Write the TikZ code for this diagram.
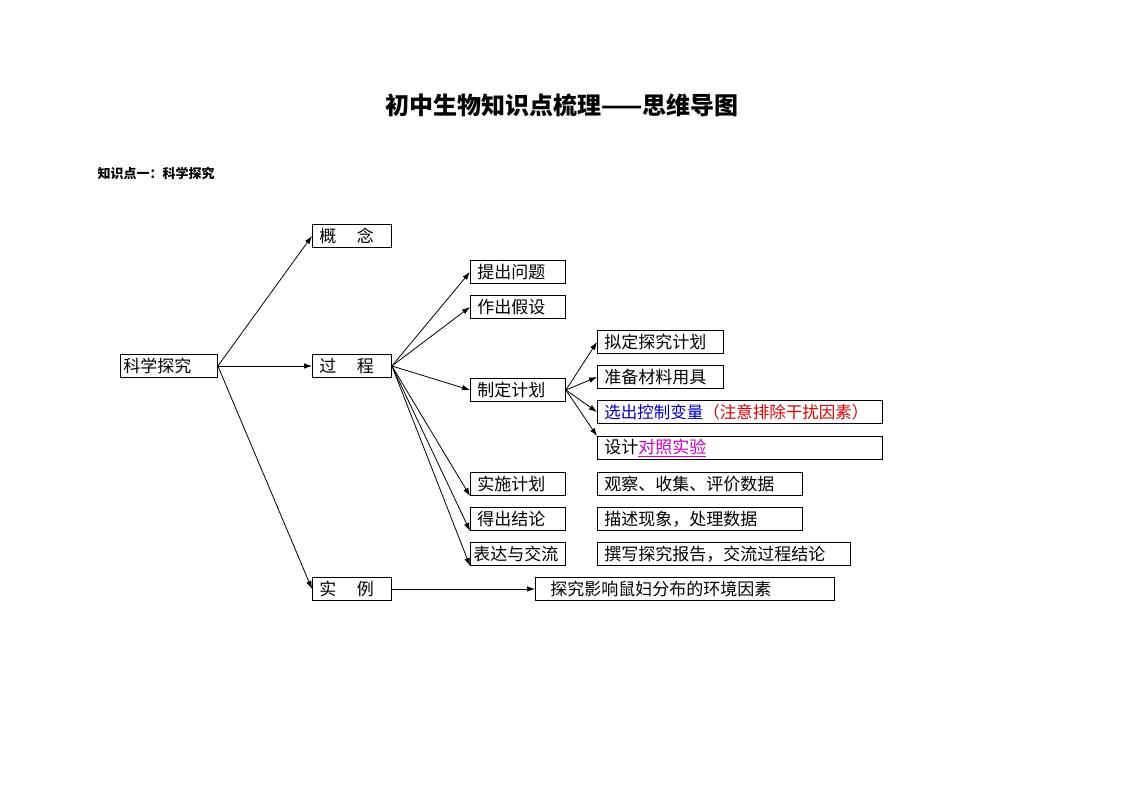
\documentclass[tikz,border=0pt]{standalone}
\usepackage{fontspec}
\newfontfamily\cjk{Noto Sans CJK SC}
\usetikzlibrary{arrows.meta}
\begin{document}
\begin{tikzpicture}[x=1pt,y=-1pt,
  box/.style={draw,line width=0.9pt,inner xsep=0pt,inner ysep=0pt,minimum height=23pt,anchor=west,font=\cjk\fontsize{17}{19}\selectfont},
  arr/.style={-{Latex[length=8pt,width=5.5pt]},line width=0.8pt}]
\useasboundingbox (0,0) rectangle (1123,794);
\node[font=\cjk\bfseries\fontsize{24}{28}\selectfont] (title) at (562,105) {初中生物知识点梳理——思维导图};
\node[font=\cjk\bfseries\fontsize{13}{15}\selectfont,anchor=west] (sub) at (94,173) {知识点一：科学探究};
\newcommand\bx[5]{\pgfmathsetlengthmacro\bw{#4-#2}\node[box] (#1) at (#2,#3) {\makebox[\bw][l]{\hspace{3pt}#5}};}
\bx{root}{120}{366}{217}{科学探究}
\bx{gn}{312}{236}{391}{\hspace{4pt}概\hspace{1.2em}念}
\bx{gc}{312}{366}{391}{\hspace{4pt}过\hspace{1.2em}程}
\bx{sl}{312}{589}{391}{\hspace{4pt}实\hspace{1.2em}例}
\bx{p1}{470}{272}{565}{\hspace{4pt}提出问题}
\bx{p2}{470}{307}{565}{\hspace{4pt}作出假设}
\bx{p3}{470}{390}{565}{\hspace{4pt}制定计划}
\bx{p4}{470}{484}{565}{\hspace{4pt}实施计划}
\bx{p5}{470}{519}{565}{\hspace{4pt}得出结论}
\bx{p6}{470}{554}{565}{表达与交流}
\bx{c1}{597}{342}{723}{\hspace{4pt}拟定探究计划}
\bx{c2}{597}{377}{723}{\hspace{4pt}准备材料用具}
\bx{c3}{597}{412}{882}{\hspace{4pt}\fontsize{16.5}{18}\selectfont\textcolor[RGB]{0,0,190}{选出控制变量}\textcolor[RGB]{220,0,0}{（注意排除干扰因素）}}
\bx{c4}{597}{448}{882}{\hspace{4pt}设计\textcolor[RGB]{200,0,200}{\underline{对照实验}}}
\bx{d4}{597}{484}{802}{\hspace{4pt}观察、收集、评价数据}
\bx{d5}{597}{519}{802}{\hspace{4pt}描述现象，处理数据}
\bx{d6}{597}{554}{850}{\hspace{4pt}撰写探究报告，交流过程结论}
\bx{ex}{535}{589}{834}{\hspace{12pt}探究影响鼠妇分布的环境因素}
\foreach \t in {gn,gc,sl} \draw[arr] (root.east) -- (\t.west);
\foreach \t in {p1,p2,p3} \draw[arr] (gc.east) -- (\t.west);
\foreach \t in {p4,p5,p6} \draw[arr] (gc.east) -- (\t.south west);
\draw[arr] (p3.east) -- (c1.west);
\draw[arr] (p3.east) -- (c2.west);
\draw[arr] (p3.east) -- (c3.west);
\draw[arr] (p3.east) -- (c4.north west);
\draw[arr] (sl.east) -- (ex.west);
\end{tikzpicture}
\end{document}
